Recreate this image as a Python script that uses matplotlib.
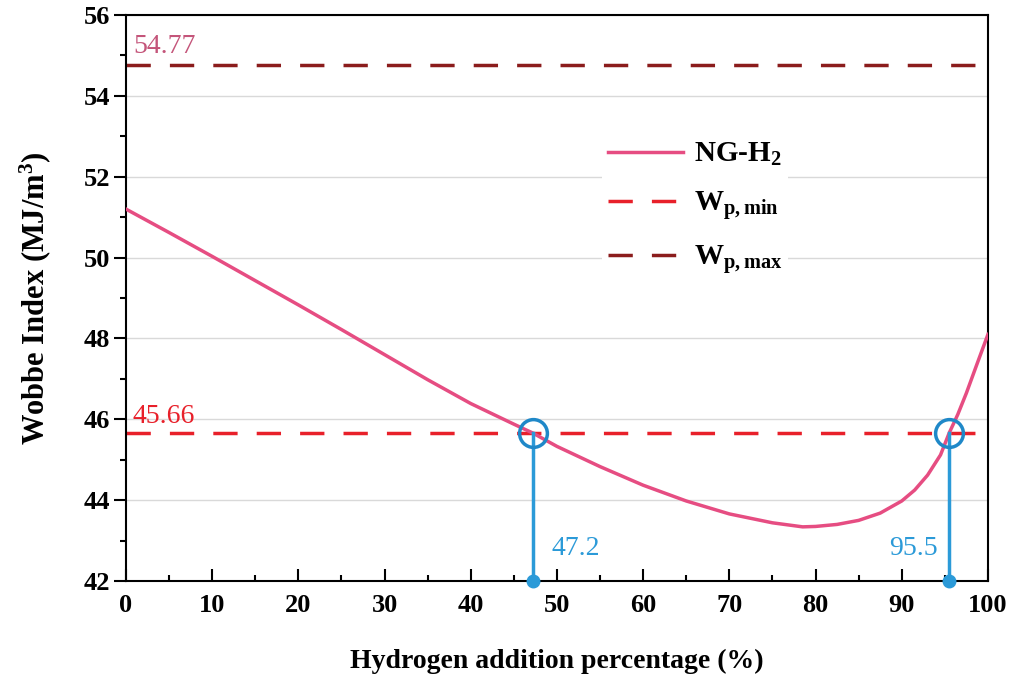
import numpy as np
import matplotlib
matplotlib.use("Agg")
import matplotlib.pyplot as plt
from matplotlib.ticker import MultipleLocator

plt.rcParams['font.family'] = ['Liberation Serif', 'DejaVu Serif']
plt.rcParams['mathtext.fontset'] = 'custom'
plt.rcParams['mathtext.rm'] = 'Liberation Serif:bold'
plt.rcParams['mathtext.bf'] = 'Liberation Serif:bold'
plt.rcParams['mathtext.it'] = 'Liberation Serif:bold'

# hydrogen share (%) and Wobbe index of the NG-H2 blend (MJ/m3)
h2_pct = [0, 5, 10, 15, 20, 25, 30, 35, 40, 45, 47.2, 50, 55, 60, 65, 70, 75,
          78.5, 80, 82.5, 85, 87.5, 90, 91.5, 93, 94.5, 95.5, 96.5, 97.5, 98.7, 100]
wobbe = [51.2, 50.62, 50.03, 49.43, 48.83, 48.22, 47.6, 46.98, 46.39, 45.88, 45.66,
         45.33, 44.83, 44.37, 43.98, 43.66, 43.44, 43.34, 43.35, 43.4, 43.5, 43.68,
         43.98, 44.25, 44.62, 45.12, 45.66, 46.12, 46.65, 47.35, 48.1]

w_min = 45.66
w_max = 54.77
cross_x = [47.2, 95.5]
cross_lbl = ["47.2", "95.5"]

c_curve = "#e64d82"
c_min = "#e8202a"
c_max = "#8b1c1c"
c_blue = "#2b9ad8"

fig = plt.figure(figsize=(10.11, 6.83), dpi=100)
ax = fig.add_axes([0.1246, 0.1493, 0.8526, 0.8287])

ax.yaxis.grid(True, color="#d9d9d9", lw=1.0)
ax.set_axisbelow(True)

ax.plot(h2_pct, wobbe, color=c_curve, lw=2.5, label="NG-H$_2$", zorder=3)
ax.axhline(w_min, color=c_min, lw=2.5, dashes=(7, 5.5), label="W$_{p,min}$", zorder=2)
ax.axhline(w_max, color=c_max, lw=2.5, dashes=(7, 5.5), label="W$_{p,max}$", zorder=2)

for xv, lb in zip(cross_x, cross_lbl):
    ax.plot([xv, xv], [42, w_min], color=c_blue, lw=2.5, zorder=4)
    ax.plot([xv], [42], "o", color=c_blue, ms=9, clip_on=False, zorder=5)
    ax.plot([xv], [w_min], "o", mfc="none", mec="#1f88c8", mew=2.5, ms=20, zorder=5)

ax.text(cross_x[0] + 2.2, 42.65, cross_lbl[0], color=c_blue, fontsize=20)
ax.text(cross_x[1] - 1.3, 42.65, cross_lbl[1], color=c_blue, fontsize=20, ha="right")
ax.text(0.8, w_max + 0.3, "54.77", color="#c4557a", fontsize=20)
ax.text(0.8, w_min + 0.25, "45.66", color=c_min, fontsize=20)

ax.set_xlim(0, 100)
ax.set_ylim(42, 56)
ax.xaxis.set_major_locator(MultipleLocator(10))
ax.xaxis.set_minor_locator(MultipleLocator(5))
ax.yaxis.set_major_locator(MultipleLocator(2))
ax.yaxis.set_minor_locator(MultipleLocator(1))
ax.tick_params(axis="x", which="both", direction="in", width=1.5, labelsize=19, pad=9)
ax.tick_params(axis="x", which="major", length=8.5)
ax.tick_params(axis="x", which="minor", length=4)
ax.tick_params(axis="y", which="both", direction="out", width=1.5, labelsize=19, pad=3)
ax.tick_params(axis="y", which="major", length=8.5)
ax.tick_params(axis="y", which="minor", length=4)
for lab in ax.get_xticklabels() + ax.get_yticklabels():
    lab.set_fontweight("bold")
for s in ax.spines.values():
    s.set_linewidth(1.5)

ax.set_xlabel("Hydrogen addition percentage (%)", fontsize=20, fontweight="bold", labelpad=23)
ax.set_ylabel("Wobbe Index (MJ/m$^3$)", fontsize=22, fontweight="bold", labelpad=22)

leg = ax.legend(loc="upper left", bbox_to_anchor=(0.535, 0.813), frameon=True,
                prop={"weight": "bold", "size": 21}, handlelength=2.6,
                labelspacing=0.72, handletextpad=0.35, borderpad=0.2)
leg.get_frame().set_edgecolor("none")
leg.get_frame().set_facecolor("white")
leg.get_frame().set_alpha(1)

fig.savefig("out.png", dpi=100)
